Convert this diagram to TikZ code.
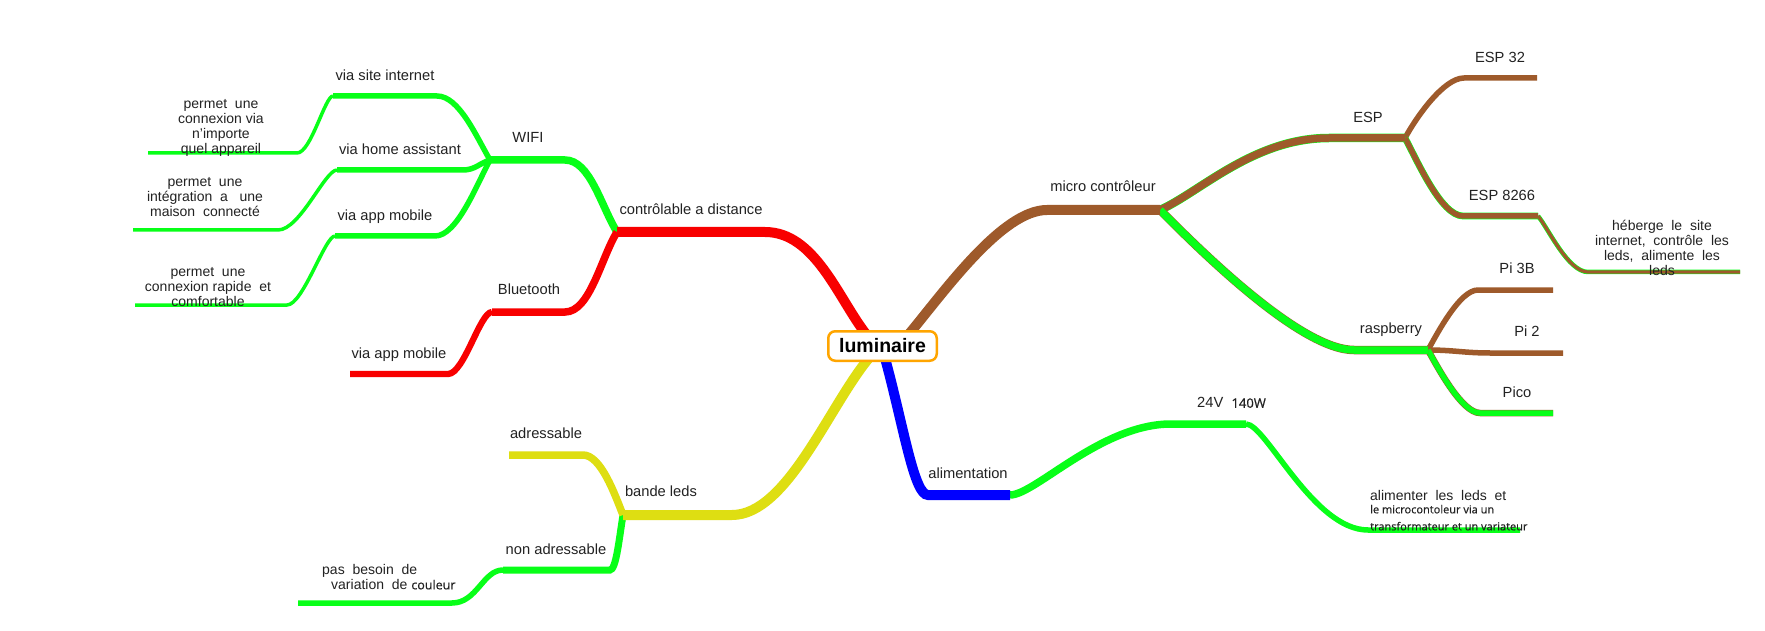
\documentclass[tikz,border=0pt]{standalone}
\usepackage{fontspec}
\setmainfont{Liberation Sans}
\newfontfamily\opensans[FakeBold=0.5]{Open Sans}
\newcommand\ossmall{\opensans\fontsize{11}{13}\selectfont}
\newcommand\osmid{\opensans\fontsize{12.5}{14}\selectfont}
\usetikzlibrary{calc}
\definecolor{cred}{RGB}{248,0,0}
\definecolor{cgreen}{RGB}{8,255,24}
\definecolor{cbrown}{RGB}{158,90,43}
\definecolor{cyellow}{RGB}{222,222,18}
\definecolor{cblue}{RGB}{0,0,255}
\definecolor{corange}{RGB}{255,165,0}
\definecolor{ctext}{RGB}{34,34,34}
\begin{document}
\begin{tikzpicture}[x=1pt,y=-1pt,
  lvA/.style={line width=10pt},
  lvB/.style={line width=7.5pt},
  lvC/.style={line width=5.5pt},
  lvD/.style={line width=3.5pt},
  brownG/.style={draw=cbrown,preaction={draw=cgreen,line width=#1}},
  greenB/.style={draw=cgreen,preaction={draw=cbrown,line width=#1}},
  lbl/.style={font=\fontsize{14.7}{16}\selectfont, text=ctext, inner sep=0pt, text height=10.5pt, text depth=3pt, yshift=-2pt},
  para/.style={font=\fontsize{14}{15}\selectfont, text=ctext, inner sep=0pt, align=center, yshift=-2pt},
  central/.style={draw=corange, line width=2.5pt, rounded corners=7pt, fill=white,
    minimum width=108.5pt, minimum height=29.5pt, inner sep=0pt,
    font=\bfseries\fontsize{19.5}{22}\selectfont, text=black}
]
\useasboundingbox[fill=white] (0,0) rectangle (1765,631);

% ---------- coordinates ----------
\coordinate (lumA) at (866,334);
\coordinate (lumB) at (909,334);
\coordinate (lumC) at (885,358);
\coordinate (lumD) at (869,358);
\coordinate (ctrlL) at (617,232);  \coordinate (ctrlR) at (765,232);
\coordinate (wifiL) at (490,160);  \coordinate (wifiR) at (565,160);
\coordinate (btL) at (492,312);    \coordinate (btR) at (565,312);
\coordinate (rappL) at (350,374);  \coordinate (rappR) at (448,374);
\coordinate (vsiL) at (333,96);    \coordinate (vsiR) at (437,96);
\coordinate (vhaL) at (337,170);   \coordinate (vhaR) at (463,170);
\coordinate (vamL) at (335,236);   \coordinate (vamR) at (435,236);
\coordinate (l1L) at (148,153);    \coordinate (l1R) at (297,153);
\coordinate (l2L) at (133,230);    \coordinate (l2R) at (278,230);
\coordinate (l3L) at (135,305);    \coordinate (l3R) at (287,305);
\coordinate (bandeL) at (623,515); \coordinate (bandeR) at (732,515);
\coordinate (adL) at (509,455);    \coordinate (adR) at (583,455);
\coordinate (naL) at (503,570);    \coordinate (naR) at (610,570);
\coordinate (pbL) at (298,603);    \coordinate (pbR) at (452,603);
\coordinate (alimL) at (928,495);  \coordinate (alimR) at (1010,495);
\coordinate (vL) at (1171,424);    \coordinate (vR) at (1246,424);
\coordinate (alfL) at (1368,530);  \coordinate (alfR) at (1520,530);
\coordinate (mcL) at (1047,210);   \coordinate (mcR) at (1160,210);
\coordinate (espL) at (1329,138);  \coordinate (espR) at (1405,138);
\coordinate (e32L) at (1464,78);   \coordinate (e32R) at (1537,78);
\coordinate (e86L) at (1463,216);  \coordinate (e86R) at (1538,216);
\coordinate (hebL) at (1588,272);  \coordinate (hebR) at (1740,272);
\coordinate (rpL) at (1354,350);   \coordinate (rpR) at (1428,350);
\coordinate (p3L) at (1478,290);   \coordinate (p3R) at (1553,290);
\coordinate (p2L) at (1490,353);   \coordinate (p2R) at (1563,353);
\coordinate (pcL) at (1480,413);   \coordinate (pcR) at (1553,413);

% ---------- leaves ----------
\draw[cgreen,lvD] (l1L) -- (l1R) .. controls ($(l1R)+(14,0)$) and ($(vsiL)+(-8,0)$) .. (vsiL);
\draw[cgreen,lvD] (l2L) -- (l2R) .. controls ($(l2R)+(22,0)$) and ($(vhaL)+(-12,0)$) .. (vhaL);
\draw[cgreen,lvD] (l3L) -- (l3R) .. controls ($(l3R)+(16,0)$) and ($(vamL)+(-10,0)$) .. (vamL);
\draw[cgreen,lvC] (pbL) -- (pbR) .. controls ($(pbR)+(25,0)$) and ($(naL)+(-20,0)$) .. (naL);
\draw[brownG=4.5pt,line width=3.2pt] (hebR) -- (hebL) .. controls ($(hebL)+(-20,0)$) and ($(e86R)+(10,12)$) .. (e86R);
\draw[cgreen,lvC] (alfR) -- (alfL) .. controls ($(alfL)+(-55,0)$) and ($(vR)+(20,0)$) .. (vR);

% ---------- level 3 ----------
\draw[cgreen,lvC] (vsiL) -- (vsiR) .. controls ($(vsiR)+(22,0)$) and ($(wifiL)+(-14,-24)$) .. (wifiL);
\draw[cgreen,lvC] (vhaL) -- (vhaR) .. controls ($(vhaR)+(12,0)$) and ($(wifiL)+(-10,3)$) .. (wifiL);
\draw[cgreen,lvC] (vamL) -- (vamR) .. controls ($(vamR)+(22,0)$) and ($(wifiL)+(-14,26)$) .. (wifiL);
\draw[cred,line width=6.3pt] (rappL) -- (rappR) .. controls ($(rappR)+(16,0)$) and ($(btL)+(-12,0)$) .. (btL);
\draw[cgreen,line width=7pt] (naL) -- (naR) .. controls ($(naR)+(6,0)$) and ($(bandeL)+(-4,25)$) .. (bandeL);
\draw[cbrown,lvC] (e32R) -- (e32L) .. controls ($(e32L)+(-20,0)$) and ($(espR)+(12,-22)$) .. (espR);
\draw[brownG=6.7pt,lvC] (e86R) -- (e86L) .. controls ($(e86L)+(-22,0)$) and ($(espR)+(12,22)$) .. (espR);
\draw[cbrown,lvC] (p3R) -- (p3L) .. controls ($(p3L)+(-18,0)$) and ($(rpR)+(10,-18)$) .. (rpR);
\draw[cbrown,lvC] (p2R) -- (p2L) .. controls ($(p2L)+(-25,0)$) and ($(rpR)+(25,0)$) .. (rpR);
\draw[greenB=6.5pt,lvC] (pcR) -- (pcL) .. controls ($(pcL)+(-18,0)$) and ($(rpR)+(10,18)$) .. (rpR);

% ---------- level 2 ----------
\draw[cgreen,lvB] (wifiL) -- (wifiR) .. controls ($(wifiR)+(25,0)$) and ($(ctrlL)+(-16,-26)$) .. (ctrlL);
\draw[cred,lvB] (btL) -- (btR) .. controls ($(btR)+(25,0)$) and ($(ctrlL)+(-16,26)$) .. (ctrlL);
\draw[cyellow,lvB] (adL) -- (adR) .. controls ($(adR)+(18,0)$) and ($(bandeL)+(-8,-20)$) .. (bandeL);
\draw[cgreen,lvB] (alimR) .. controls ($(alimR)+(25,0)$) and ($(vL)+(-70,0)$) .. (vL) -- (vR);
\draw[brownG=8.5pt,lvB] (espR) -- (espL) .. controls ($(espL)+(-75,0)$) and ($(mcR)+(40,-18)$) .. (mcR);
\draw[greenB=8.5pt,lvB] (rpR) -- (rpL) .. controls ($(rpL)+(-55,0)$) and ($(mcR)+(35,35)$) .. (mcR);

% ---------- level 1 ----------
\draw[cred,lvA] (ctrlL) -- (ctrlR) .. controls ($(ctrlR)+(50,0)$) and ($(lumA)+(-28,-36)$) .. (lumA);
\draw[cyellow,lvA] (bandeL) -- (bandeR) .. controls ($(bandeR)+(55,0)$) and ($(lumD)+(-40,48)$) .. (lumD);
\draw[cblue,lvA] (lumC) .. controls ($(lumC)+(19,70)$) and ($(alimL)+(-14,0)$) .. (alimL) -- (alimR);
\draw[cbrown,lvA] (lumB) .. controls ($(lumB)+(35,-42)$) and ($(mcL)+(-45,0)$) .. (mcL) -- (mcR);

% ---------- central node ----------
\node[central] (lum) at (882.5,346) {luminaire};

% ---------- labels ----------
\node[lbl] (tCtrl) at (691,209) {contrôlable a distance};
\node[lbl] (tWifi) at (528,137) {WIFI};
\node[lbl] (tBt) at (529,289) {Bluetooth};
\node[lbl] (tRapp) at (399,353) {via app mobile};
\node[lbl] (tVsi) at (385,75) {via site internet};
\node[lbl] (tVha) at (400,149) {via home assistant};
\node[lbl] (tVam) at (385,215) {via app mobile};
\node[para] (p1) at (221,126) {permet~~une\\connexion via\\n'importe\\quel appareil};
\node[para] (p2) at (205,195.5) {permet~~une\\intégration~~a~~~une\\maison~~connecté};
\node[para] (p3) at (208,285.5) {permet~~une\\connexion rapide~~et\\comfortable};

\node[lbl] (tBande) at (661,491) {bande leds};
\node[lbl] (tAd) at (546,433) {adressable};
\node[lbl] (tNa) at (556,549) {non adressable};
\node[para,align=left,anchor=north west] (pPb) at (322,562) {pas~~besoin~~de\\\hspace*{9pt}variation~~de {\osmid couleur}};

\node[lbl] (tAlim) at (968,473) {alimentation};
\node[lbl,anchor=west] (t24) at (1197,402) {24V~~{\opensans\fontsize{13}{14}\selectfont 140W}};
\node[para,align=left,anchor=north west] (pAl) at (1370,488) {alimenter~~les~~leds~~et\\[-2pt]{\ossmall le microcontoleur via un}\\[2pt]{\ossmall transformateur et un variateur}};

\node[lbl] (tMc) at (1103,186) {micro contrôleur};
\node[lbl] (tEsp) at (1368,117) {ESP};
\node[lbl] (tE32) at (1500,57) {ESP 32};
\node[lbl] (tE86) at (1502,195) {ESP 8266};
\node[para] (pHeb) at (1662,246) {héberge~~le~~site\\internet,~~contrôle~~les\\leds,~~alimente~~les\\leds};
\node[lbl] (tRp) at (1391,328) {raspberry};
\node[lbl] (tP3) at (1517,268) {Pi 3B};
\node[lbl] (tP2) at (1527,331) {Pi 2};
\node[lbl] (tPc) at (1517,392) {Pico};
\end{tikzpicture}
\end{document}
